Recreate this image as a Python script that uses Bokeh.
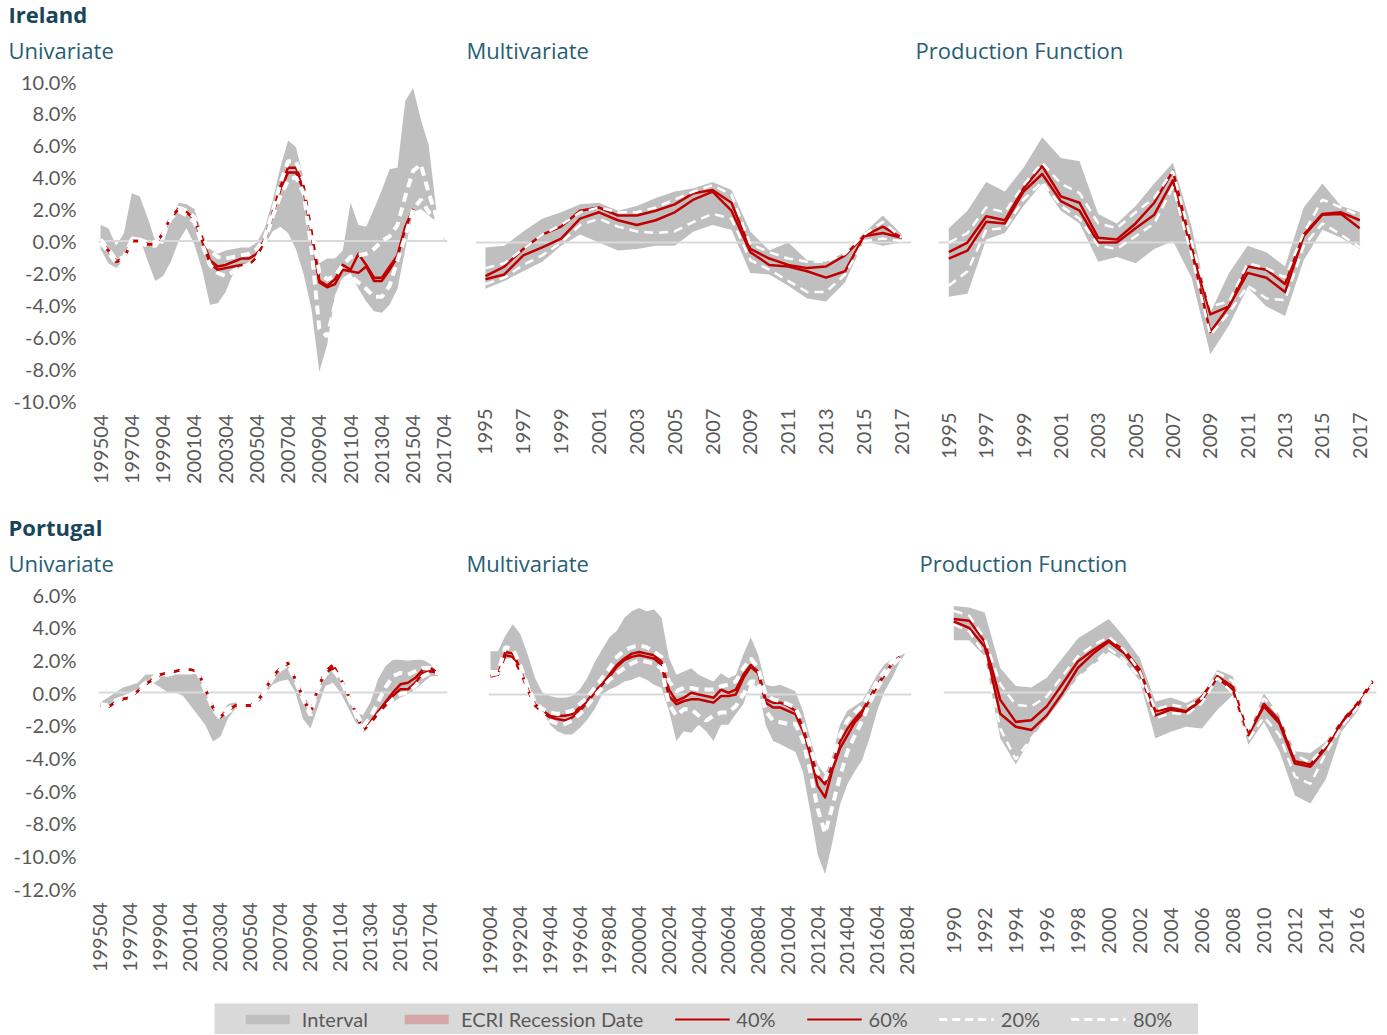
import math
import numpy as np
from bokeh.plotting import figure
from bokeh.models import (ColumnDataSource, Span, FixedTicker, PrintfTickFormatter,
                          Title, Legend, LegendItem, Range1d, Spacer)
from bokeh.layouts import column, row
from bokeh.embed import file_html
from bokeh.resources import INLINE

nan = float("nan")

# ---------------------------------------------------------------- data
# Ireland - Univariate (half-yearly readings, % output gap)
IE_UNI_T = [1995.75, 1996.25, 1996.75, 1997.25, 1997.75, 1998.25, 1998.75, 1999.25, 1999.75,
            2000.25, 2000.75, 2001.25, 2001.75, 2002.25, 2002.75, 2003.25, 2003.75, 2004.25,
            2004.75, 2005.25, 2005.75, 2006.25, 2006.75, 2007.25, 2007.75, 2008.25, 2008.75,
            2009.25, 2009.75, 2010.25, 2010.75, 2011.25, 2011.75, 2012.25, 2012.75, 2013.25,
            2013.75, 2014.25, 2014.75, 2015.25, 2015.75, 2016.25, 2016.75, 2017.25, 2017.75]
IE_UNI_HI = [1.0, 0.8, -0.3, 0.5, 3.0, 2.8, 1.5, 0.0, -0.2, 1.4, 2.4, 2.3, 2.0, 0.5, -0.5,
             -0.8, -0.6, -0.5, -0.4, -0.4, -0.1, 0.8, 2.5, 4.6, 6.3, 5.9, 3.9, 0.6, -1.4, -1.1,
             -1.1, -0.6, 2.4, 1.0, 0.9, 2.0, 3.2, 4.5, 4.6, 8.8, 9.6, 7.6, 6.0, 1.8, 0.2]
IE_UNI_LO = [-0.5, -1.4, -1.7, -1.2, 0.3, 0.2, -1.2, -2.5, -2.2, -1.3, 0.0, 0.8, -0.2, -1.8, -4.0,
             -3.9, -3.2, -2.0, -1.6, -1.3, -0.9, -0.3, 0.6, 0.9, 0.5, -0.5, -2.1, -4.3, -8.2, -6.5,
             -3.4, -2.3, -2.0, -3.0, -3.8, -4.4, -4.5, -4.0, -3.0, -0.5, 1.8, 2.0, 1.6, 1.2, 0.0]
IE_UNI_P80 = [0.1, -0.5, -1.2, -1.0, 0.1, 0.1, -0.1, -0.1, 0.6, 1.7, 2.1, 1.9, 1.5, 0.3, -0.6,
              -1.0, -1.1, -1.0, -0.9, -0.8, -0.5, 0.2, 1.8, 3.6, 5.0, 5.0, 3.8, 0.8, -2.0, -2.4,
              -2.2, -1.5, -1.0, -0.9, -0.8, -0.5, 0.0, 0.3, 1.0, 2.8, 4.4, 4.8, 3.0, 1.5, 0.2]
IE_UNI_P60 = [0.0, -0.6, -1.3, -1.1, 0.0, 0.0, -0.2, -0.2, 0.5, 1.5, 2.0, 1.8, 1.4, 0.2, -1.2,
              -1.6, -1.5, -1.3, -1.1, -1.1, -0.8, 0.1, 1.7, 3.4, 4.6, 4.6, 3.4, 0.6, -2.5, -2.8,
              -2.4, -1.5, -1.8, -0.8, -1.5, -2.3, -2.3, -1.6, -0.9, 0.9, 2.0, nan, nan, nan, nan]
IE_UNI_P40 = [0.0, -0.6, -1.3, -1.1, 0.0, 0.0, -0.2, -0.2, 0.5, 1.5, 2.0, 1.8, 1.4, 0.0, -1.4,
              -1.8, -1.7, -1.6, -1.5, -1.5, -1.0, 0.0, 1.6, 3.2, 4.3, 4.3, 3.2, 0.4, -2.6, -2.9,
              -2.7, -1.8, -1.9, -2.0, -1.6, -2.5, -2.5, -1.8, -1.0, 0.8, 2.0, nan, nan, nan, nan]
IE_UNI_P20 = [-0.1, -0.7, -1.4, -1.2, -0.1, -0.1, -0.3, -0.3, 0.4, 1.4, 1.9, 1.6, 1.2, -0.2, -1.5,
              -2.0, -2.2, -1.9, -1.6, -1.5, -1.1, -0.1, 1.5, 2.8, 3.8, 4.0, 3.0, -0.5, -5.5, -6.0,
              -4.0, -2.5, -2.2, -2.6, -3.0, -3.5, -3.5, -2.8, -1.2, 0.3, 2.0, 2.6, 1.8, 1.4, 0.2]

# Ireland - Multivariate (annual)
IE_YEARS = [1995, 1996, 1997, 1998, 1999, 2000, 2001, 2002, 2003, 2004, 2005, 2006,
            2007, 2008, 2009, 2010, 2011, 2012, 2013, 2014, 2015, 2016, 2017]
IE_MV_HI = [-0.3, -0.2, 0.7, 1.5, 1.9, 2.4, 2.5, 2.0, 2.3, 2.8, 3.2, 3.4, 3.8, 3.3, 0.7, -0.5,
            0.0, -1.1, -1.2, -0.6, 0.6, 1.7, 0.5]
IE_MV_LO = [-2.9, -2.4, -1.8, -1.2, -0.2, 0.5, 0.0, -0.5, -0.4, -0.2, -0.2, 0.7, 1.1, 0.8, -1.9,
            -2.0, -2.7, -3.5, -3.7, -2.5, 0.1, -0.2, 0.0]
IE_MV_P80 = [-1.6, -1.3, -0.4, 0.5, 1.1, 1.9, 2.2, 1.9, 1.9, 2.2, 2.7, 3.2, 3.6, 3.0, -0.1, -0.6,
             -1.0, -1.2, -1.2, -0.7, 0.5, 1.3, 0.3]
IE_MV_P60 = [-2.1, -1.5, -0.4, 0.5, 1.0, 2.0, 2.2, 1.7, 1.7, 2.0, 2.4, 3.1, 3.3, 2.5, -0.4, -1.0,
             -1.4, -1.6, -1.5, -0.8, 0.4, 1.0, 0.3]
IE_MV_P40 = [-2.3, -2.0, -0.8, -0.3, 0.25, 1.5, 1.9, 1.4, 1.1, 1.4, 1.9, 2.7, 3.2, 2.0, -0.6, -1.4,
             -1.5, -1.8, -2.2, -1.8, 0.4, 0.6, 0.3]
IE_MV_P20 = [-2.6, -2.2, -1.4, -0.8, 0.0, 1.1, 1.5, 1.0, 0.7, 0.6, 0.7, 1.3, 1.8, 1.5, -1.1, -1.7,
             -2.4, -3.1, -3.1, -2.0, 0.1, 0.25, 0.1]

# Ireland - Production Function (annual)
IE_PF_HI = [0.9, 2.0, 3.8, 3.2, 4.7, 6.6, 5.3, 5.1, 1.8, 1.2, 2.3, 3.7, 5.0, 1.0, -4.4, -1.9,
            -0.2, -0.6, -1.5, 2.2, 3.7, 2.3, 1.9]
IE_PF_LO = [-3.4, -3.2, 0.2, 0.6, 2.3, 3.7, 2.0, 1.2, -1.2, -0.9, -1.3, -0.4, 0.1, -2.2, -7.0,
            -5.2, -2.8, -4.0, -4.6, -1.1, 0.8, 0.3, -0.4]
IE_PF_P80 = [0.0, 0.6, 2.2, 1.9, 3.6, 5.0, 3.7, 3.1, 1.2, 0.9, 1.9, 2.8, 4.5, 0.0, -4.0, -3.7,
             -1.3, -1.6, -2.2, 0.6, 2.7, 2.2, 1.7]
IE_PF_P60 = [-0.6, 0.0, 1.65, 1.4, 3.4, 4.8, 2.9, 2.5, 0.3, 0.2, 1.2, 2.5, 4.5, -0.3, -4.5, -4.0,
             -1.5, -1.7, -2.6, 0.5, 1.8, 1.9, 1.4]
IE_PF_P40 = [-1.0, -0.5, 1.3, 1.2, 3.2, 4.3, 2.6, 2.0, 0.0, 0.0, 0.9, 1.75, 3.9, -0.5, -5.6, -4.0,
             -1.9, -2.2, -3.1, 0.4, 1.75, 1.8, 0.9]
IE_PF_P20 = [-2.7, -1.8, 0.8, 0.9, 2.7, 3.8, 2.3, 1.5, -0.2, -0.4, 0.4, 1.2, 3.5, -0.8, -5.8, -4.4,
             -2.7, -3.5, -3.6, -0.2, 1.2, 0.5, -0.3]

# Portugal - Univariate (half-yearly readings)
PT_UNI_T = [1995.75, 1996.25, 1996.75, 1997.25, 1997.75, 1998.25, 1998.75, 1999.25, 1999.75,
            2000.25, 2000.75, 2001.25, 2001.75, 2002.25, 2002.75, 2003.25, 2003.75, 2004.25,
            2004.75, 2005.25, 2005.75, 2006.25, 2006.75, 2007.25, 2007.75, 2008.25, 2008.75,
            2009.25, 2009.75, 2010.25, 2010.75, 2011.25, 2011.75, 2012.25, 2012.75, 2013.25,
            2013.75, 2014.25, 2014.75, 2015.25, 2015.75, 2016.25, 2016.75, 2017.25, 2017.75,
            2018.25]
PT_UNI_HI = [-0.6, -0.3, 0.0, 0.3, 0.45, 0.6, 1.1, 1.1, 1.0, 1.0, 1.1, 1.1, 1.1, 1.2, 0.2, -1.0,
             -1.4, -0.7, -0.6, -0.7, -0.7, -0.3, 0.3, 1.0, 1.6, 1.7, 1.0, 0.0, -0.9, 0.0, 1.5, 1.6,
             0.8, 0.0, -1.2, -1.4, -0.6, 0.8, 1.6, 2.0, 2.0, 1.95, 2.0, 2.0, 1.75, 1.2]
PT_UNI_LO = [-0.8, -0.9, -0.6, -0.2, 0.0, 0.2, 0.7, 0.6, 0.3, 0.0, 0.0, -0.2, -0.8, -1.4, -2.0,
             -3.0, -2.7, -1.6, -1.0, -0.9, -0.9, -0.7, -0.1, 0.5, 0.7, 0.8, 0.0, -1.6, -2.2, -0.9,
             0.4, 0.6, 0.0, -0.9, -1.8, -2.35, -1.8, -1.2, -0.8, -0.6, -0.3, -0.1, 0.2, 0.6, 1.0,
             1.0]
PT_UNI_P80 = [-0.7, -0.8, -0.5, -0.3, -0.2, 0.2, 0.6, 0.9, 1.2, 1.3, 1.4, 1.5, 1.5, 1.4, 0.3,
              -0.8, -1.4, -1.0, -0.7, -0.7, -0.7, -0.4, 0.3, 1.1, 1.6, 1.9, 0.9, -0.2, -1.2, 0.4,
              1.4, 1.9, 1.0, 0.0, -1.1, -2.1, -1.5, -0.6, 0.3, 1.0, 1.2, 1.1, 1.3, 1.5, 1.5, 1.2]
PT_UNI_P60 = [-0.8, -0.9, -0.6, -0.4, -0.3, 0.1, 0.5, 0.8, 1.1, 1.2, 1.3, 1.4, 1.4, 1.3, 0.2,
              -0.9, -1.5, -1.1, -0.8, -0.8, -0.8, -0.5, 0.2, 1.0, 1.5, 1.8, 0.8, -0.3, -1.3, 0.3,
              1.3, 1.7, 0.9, -0.1, -1.2, -2.3, -1.8, -1.2, -0.6, 0.0, 0.5, 0.6, 0.9, 1.4, 1.5, 1.2]
PT_UNI_P40 = [-0.8, -0.9, -0.6, -0.4, -0.3, 0.1, 0.5, 0.8, 1.1, 1.2, 1.3, 1.4, 1.4, 1.3, 0.2,
              -0.9, -1.5, -1.1, -0.8, -0.8, -0.8, -0.5, 0.2, 1.0, 1.5, 1.8, 0.8, -0.3, -1.3, 0.3,
              1.2, 1.5, 0.9, -0.1, -1.2, -2.35, -1.9, -1.3, -0.8, -0.2, 0.2, 0.2, 0.6, 1.2, 1.3,
              1.2]
PT_UNI_P20 = [-0.9, -1.0, -0.7, -0.5, -0.4, 0.0, 0.4, 0.7, 1.0, 1.1, 1.2, 1.3, 1.3, 1.2, 0.1,
              -1.0, -1.6, -1.2, -0.9, -0.9, -0.9, -0.6, 0.1, 0.9, 1.4, 1.7, 0.7, -0.4, -1.4, 0.2,
              1.1, 1.4, 0.8, -0.2, -1.3, -2.4, -2.0, -1.4, -0.9, -0.4, -0.1, 0.0, 0.4, 1.0, 1.2,
              1.2]

# Portugal - Multivariate (half-yearly readings)
PT_MV_T = [1990.75, 1991.25, 1991.75, 1992.25, 1992.75, 1993.25, 1993.75, 1994.25, 1994.75,
           1995.25, 1995.75, 1996.25, 1996.75, 1997.25, 1997.75, 1998.25, 1998.75, 1999.25,
           1999.75, 2000.25, 2000.75, 2001.25, 2001.75, 2002.25, 2002.75, 2003.25, 2003.75,
           2004.25, 2004.75, 2005.25, 2005.75, 2006.25, 2006.75, 2007.25, 2007.75, 2008.25,
           2008.75, 2009.25, 2009.75, 2010.25, 2010.75, 2011.25, 2011.75, 2012.25, 2012.75,
           2013.25, 2013.75, 2014.25, 2014.75, 2015.25, 2015.75, 2016.25, 2016.75, 2017.25,
           2017.75, 2018.25, 2018.75]
PT_MV_HI = [2.65, 2.65, 3.6, 4.3, 3.7, 2.45, 1.0, 0.1, -0.1, -0.2, -0.2, -0.1, 0.3, 1.0, 1.95,
            2.75, 3.5, 3.9, 4.7, 5.1, 5.3, 5.1, 5.2, 4.7, 2.25, 1.2, 1.4, 1.6, 1.2, 1.0, 0.8, 1.3,
            1.0, 1.2, 2.45, 3.5, 2.45, 0.6, 0.5, 0.6, 0.4, 0.2, -1.0, -2.65, -4.3, -4.9, -3.7,
            -1.85, -1.0, -0.7, -0.4, 0.4, 1.2, 1.85, 2.15, 2.35, 2.65]
PT_MV_LO = [1.5, 1.5, 2.15, 2.25, 1.85, 0.8, -0.4, -1.0, -1.85, -2.25, -2.45, -2.45, -2.05, -1.55,
            -0.9, 0.0, 0.3, 0.5, 0.8, 0.9, 1.1, 0.9, 0.6, 0.4, -1.0, -2.85, -2.25, -2.35, -1.85,
            -2.25, -2.85, -1.85, -1.85, -1.2, -0.6, 0.8, 0.4, -1.85, -2.85, -3.05, -3.3, -3.5,
            -4.7, -7.15, -9.8, -11.0, -9.0, -6.75, -5.5, -4.7, -4.0, -2.65, -1.0, 0.2, 1.0, 1.95,
            2.65]
PT_MV_P80 = [1.2, 1.3, 2.9, 2.8, 1.8, 0.5, -0.5, -0.9, -1.1, -1.2, -1.1, -1.0, -0.6, -0.2, 0.4,
             1.0, 1.6, 2.3, 2.7, 2.9, 3.0, 2.9, 2.6, 2.3, 0.8, 0.2, 0.4, 0.4, 0.3, 0.3, 0.3, 0.5,
             0.6, 0.8, 1.6, 2.2, 1.6, 0.0, -0.3, -0.4, -0.6, -0.8, -1.8, -3.2, -4.8, -5.2, -4.0,
             -2.5, -1.6, -1.1, -0.7, 0.0, 0.8, 1.4, 2.0, 2.4, 2.9]
PT_MV_P60 = [1.2, 1.2, 2.6, 2.5, 1.6, 0.3, -0.6, -1.0, -1.3, -1.3, -1.3, -1.2, -0.8, -0.4, 0.2,
             0.6, 1.2, 1.8, 2.2, 2.5, 2.6, 2.5, 2.4, 2.0, 0.3, -0.4, -0.2, 0.1, 0.0, -0.1, -0.2,
             0.3, 0.1, 0.3, 1.2, 1.8, 1.4, -0.3, -0.5, -0.5, -0.7, -1.0, -2.0, -3.5, -5.0, -5.5,
             -4.3, -2.9, -2.1, -1.5, -1.0, -0.2, 0.6, 1.2, 1.9, 2.3, nan]
PT_MV_P40 = [1.1, 1.2, 2.4, 2.3, 1.4, 0.3, -0.7, -1.1, -1.4, -1.5, -1.6, -1.4, -1.0, -0.5, 0.1,
             0.6, 1.1, 1.7, 2.1, 2.3, 2.4, 2.3, 2.2, 1.8, -0.1, -0.6, -0.4, -0.3, -0.3, -0.4, -0.5,
             -0.1, -0.1, 0.0, 1.0, 1.7, 1.3, -0.5, -0.8, -0.8, -1.0, -1.2, -2.2, -3.7, -5.6, -6.3,
             -4.6, -3.3, -2.5, -1.7, -1.2, -0.3, 0.5, 1.2, 1.9, 2.3, nan]
PT_MV_P20 = [0.8, 1.0, 2.1, 2.0, 1.3, 0.1, -0.8, -1.2, -1.6, -1.8, -1.8, -1.6, -1.2, -0.7, -0.1,
             0.4, 0.9, 1.3, 1.6, 1.9, 2.1, 2.0, 1.9, 1.6, -0.6, -1.3, -0.9, -0.9, -1.3, -1.6, -1.3,
             -1.1, -1.1, -0.7, 0.0, 0.8, 0.8, -1.0, -1.6, -1.7, -1.8, -1.8, -2.8, -4.7, -7.0, -8.5,
             -6.8, -5.0, -3.5, -2.5, -1.6, -0.5, 0.4, 1.1, 1.8, 2.2, 2.8]

# Portugal - Production Function (annual)
PT_YEARS = [1990, 1991, 1992, 1993, 1994, 1995, 1996, 1997, 1998, 1999, 2000, 2001, 2002, 2003,
            2004, 2005, 2006, 2007, 2008, 2009, 2010, 2011, 2012, 2013, 2014, 2015, 2016, 2017]
PT_PF_HI = [5.3, 5.2, 4.9, 1.5, 0.4, 0.3, 0.9, 2.1, 3.3, 3.9, 4.5, 3.4, 2.1, -0.55, -0.3, -0.65,
            -0.15, 1.4, 1.0, -2.4, -0.05, -1.4, -3.6, -3.7, -3.0, -1.6, -0.65, 0.8]
PT_PF_LO = [3.2, 3.2, 2.2, -2.8, -4.4, -2.8, -1.6, -0.35, 0.9, 1.7, 2.5, 1.9, 0.7, -2.8, -2.4,
            -2.1, -2.2, -1.05, -0.15, -3.2, -1.8, -3.6, -6.3, -6.8, -5.3, -2.4, -1.2, 0.5]
PT_PF_P80 = [5.0, 4.7, 3.3, 0.5, -0.75, -0.85, -0.25, 1.0, 2.2, 2.9, 3.4, 2.6, 1.3, -1.05, -0.75,
             -0.9, -0.35, 1.2, 0.7, -2.4, -0.35, -1.4, -3.8, -4.3, -3.2, -1.6, -0.55, 0.8]
PT_PF_P60 = [4.5, 4.4, 3.1, -0.45, -1.8, -1.7, -0.85, 0.5, 1.9, 2.6, 3.2, 2.6, 1.4, -1.15, -0.95,
             -1.15, -0.25, 1.0, 0.35, -2.6, -0.7, -1.7, -4.2, -4.4, -3.3, -1.8, -0.7, 0.7]
PT_PF_P40 = [4.35, 3.95, 2.8, -1.3, -2.1, -2.3, -1.4, -0.05, 1.5, 2.4, 3.1, 2.4, 1.2, -1.4, -1.05,
             -1.2, -0.45, 0.9, 0.15, -2.6, -0.85, -1.9, -4.35, -4.55, -3.4, -1.9, -0.85, 0.65]
PT_PF_P20 = [4.15, 3.75, 2.3, -2.2, -4.1, -2.8, -1.7, -0.55, 0.9, 1.7, 2.7, 2.0, 0.9, -1.6, -1.25,
             -1.35, -0.65, 0.9, -0.05, -2.9, -1.5, -2.6, -5.15, -5.6, -3.7, -2.1, -0.95, 0.5]

# tick labels
QTR_TICKS_95 = ["199504", "199704", "199904", "200104", "200304", "200504", "200704",
                "200904", "201104", "201304", "201504", "201704"]
QTR_TICKS_90 = ["199004", "199204", "199404", "199604", "199804", "200004", "200204", "200404",
                "200604", "200804", "201004", "201204", "201404", "201604", "201804"]
YEAR_TICKS_95 = ["1995", "1997", "1999", "2001", "2003", "2005", "2007", "2009", "2011",
                 "2013", "2015", "2017"]
YEAR_TICKS_90 = ["1990", "1992", "1994", "1996", "1998", "2000", "2002", "2004", "2006",
                 "2008", "2010", "2012", "2014", "2016"]
IE_Y_TICKS = [-10, -8, -6, -4, -2, 0, 2, 4, 6, 8, 10]
PT_Y_TICKS = [-12, -10, -8, -6, -4, -2, 0, 2, 4, 6]

COUNTRIES = ["Ireland", "Portugal"]
METHODS = ["Univariate", "Multivariate", "Production Function"]
LEGEND_LABELS = ["Interval", "ECRI Recession Date", "40%", "60%", "20%", "80%"]

# ---------------------------------------------------------------- style
BAND = "#BFBFBF"
ECRI = "#D5A6A6"
RED = "#C00000"
ZERO = "#D9D9D9"
AX_TXT = "#595959"
TITLE_C = "#17465A"
SUB_C = "#285E73"
AX_FONT = "Lato"
T_FONT = "Open Sans"


def tick_pos(lbl):
    if len(lbl) == 6:
        return int(lbl[:4]) + (int(lbl[4:]) - 1) / 4.0
    return float(lbl)


def panel(t, hi, lo, p20, p40, p60, p80, ticks, subtitle, xr, yr, fw, fh,
          bl, br, bt, bb, t_off, x_standoff, country=None,
          y_ticks=None, white_w=4.0):
    p = figure(frame_width=fw, frame_height=fh,
               x_range=Range1d(*xr), y_range=Range1d(*yr),
               output_backend="svg", toolbar_location=None,
               y_axis_location="left" if y_ticks else None,
               min_border_left=bl, min_border_right=br,
               min_border_top=bt, min_border_bottom=bb)
    p.outline_line_color = None
    p.xgrid.visible = False
    p.ygrid.visible = False

    # outermost title: country (only on the first panel of a row)
    p.title.text = country if country else ""
    p.title.align = "left"
    p.title.offset = t_off
    p.title.standoff = -27
    p.title.text_font = T_FONT
    p.title.text_font_size = "22px"
    p.title.text_font_style = "bold"
    p.title.text_color = TITLE_C
    # subtitle next to the frame
    p.add_layout(Title(text=subtitle, align="left", offset=t_off, standoff=34,
                       text_font=T_FONT, text_font_size="22px",
                       text_font_style="normal", text_color=SUB_C), "above")

    src = ColumnDataSource(dict(t=np.array(t, dtype=float),
                                hi=np.array(hi, dtype=float), lo=np.array(lo, dtype=float),
                                p20=np.array(p20, dtype=float), p40=np.array(p40, dtype=float),
                                p60=np.array(p60, dtype=float), p80=np.array(p80, dtype=float)))
    p.varea(x="t", y1="lo", y2="hi", source=src, fill_color=BAND, fill_alpha=1.0,
            level="image")
    p.add_layout(Span(location=0, dimension="width", line_color=ZERO, line_width=2,
                      level="underlay"))
    for col in ("p40", "p60"):
        p.line("t", col, source=src, line_color=RED, line_width=2.5, line_join="round")
    for col in ("p20", "p80"):
        p.line("t", col, source=src, line_color="white", line_width=white_w,
               line_dash="9 6")

    xa = p.xaxis[0]
    xa.ticker = FixedTicker(ticks=[tick_pos(l) for l in ticks])
    xa.major_label_overrides = {tick_pos(l): l for l in ticks}
    xa.major_label_orientation = math.pi / 2
    xa.major_label_standoff = x_standoff
    for ax in [xa] + (list(p.yaxis) if y_ticks else []):
        ax.axis_line_color = None
        ax.major_tick_line_color = None
        ax.minor_tick_line_color = None
        ax.major_tick_out = 0
        ax.major_tick_in = 0
        ax.minor_tick_out = 0
        ax.major_label_text_font = AX_FONT
        ax.major_label_text_font_size = "20px"
        ax.major_label_text_color = AX_TXT
    if y_ticks:
        ya = p.yaxis[0]
        ya.ticker = FixedTicker(ticks=y_ticks)
        ya.formatter = PrintfTickFormatter(format="%.1f%%")
        ya.major_label_standoff = 22
    return p


# ---------------------------------------------------------------- row 1: Ireland
H1_T, H1_F, H1_B = 81, 319, 105
p1 = panel(IE_UNI_T, IE_UNI_HI, IE_UNI_LO, IE_UNI_P20, IE_UNI_P40, IE_UNI_P60, IE_UNI_P80,
           QTR_TICKS_95, METHODS[0], (1995.62, 2017.95), (-10, 10), 349, H1_F,
           98, 10, H1_T, H1_B, -90, 14, country=COUNTRIES[0], y_ticks=IE_Y_TICKS)
p2 = panel(IE_YEARS, IE_MV_HI, IE_MV_LO, IE_MV_P20, IE_MV_P40, IE_MV_P60, IE_MV_P80,
           YEAR_TICKS_95, METHODS[1], (1994.474, 2017.515), (-9.9, 10.1), 436, H1_F,
           18, 4, H1_T, H1_B, -9, 8, white_w=2.5)
p3 = panel(IE_YEARS, IE_PF_HI, IE_PF_LO, IE_PF_P20, IE_PF_P40, IE_PF_P60, IE_PF_P80,
           YEAR_TICKS_95, METHODS[2], (1994.449, 2017.04), (-9.9, 10.1), 422, H1_F,
           23, 12, H1_T, H1_B, -23, 12, white_w=2.5)

# ---------------------------------------------------------------- row 2: Portugal
H2_T, H2_F, H2_B = 89, 294, 112
p4 = panel(PT_UNI_T, PT_UNI_HI, PT_UNI_LO, PT_UNI_P20, PT_UNI_P40, PT_UNI_P60, PT_UNI_P80,
           QTR_TICKS_95, METHODS[0], (1995.62, 2018.89), (-12, 6), 349, H2_F,
           98, 10, H2_T, H2_B, -90, 14, country=COUNTRIES[1], y_ticks=PT_Y_TICKS)
p5 = panel(PT_MV_T, PT_MV_HI, PT_MV_LO, PT_MV_P20, PT_MV_P40, PT_MV_P60, PT_MV_P80,
           QTR_TICKS_90, METHODS[1], (1990.616, 2019.06), (-11.88, 6.12), 423, H2_F,
           31, 8, H2_T, H2_B, -22, 17)
p6 = panel(PT_YEARS, PT_PF_HI, PT_PF_LO, PT_PF_P20, PT_PF_P40, PT_PF_P60, PT_PF_P80,
           YEAR_TICKS_90, METHODS[2], (1989.34, 2017.26), (-12, 6), 433, H2_F,
           24, 6, H2_T, H2_B, -24, 19, white_w=2.5)

# ---------------------------------------------------------------- legend strip
lg = figure(frame_width=984, frame_height=31, x_range=Range1d(0, 1), y_range=Range1d(0, 1),
            output_backend="svg", toolbar_location=None, x_axis_location=None,
            y_axis_location=None, min_border=0)
lg.outline_line_color = None
lg.xgrid.visible = False
lg.ygrid.visible = False
lg.background_fill_color = "#D9D9D9"
lg.border_fill_color = "#D9D9D9"
proxy = ColumnDataSource(dict(x=[nan], y1=[nan], y2=[nan]))
r_band = lg.varea(x="x", y1="y1", y2="y2", source=proxy, fill_color=BAND)
r_ecri = lg.varea(x="x", y1="y1", y2="y2", source=proxy, fill_color=ECRI)
r40 = lg.line("x", "y1", source=proxy, line_color=RED, line_width=2)
r60 = lg.line("x", "y1", source=proxy, line_color=RED, line_width=2)
r20 = lg.line("x", "y1", source=proxy, line_color="white", line_width=3, line_dash="8 5")
r80 = lg.line("x", "y1", source=proxy, line_color="white", line_width=3, line_dash="8 5")
legend = Legend(items=[LegendItem(label=lab, renderers=[r]) for lab, r in
                       zip(LEGEND_LABELS, [r_band, r_ecri, r40, r60, r20, r80])],
                orientation="horizontal", location="center",
                glyph_width=55, glyph_height=12, label_standoff=7, spacing=31,
                padding=0, margin=0, background_fill_alpha=0, border_line_color=None,
                label_text_font=AX_FONT, label_text_font_size="20px",
                label_text_color=AX_TXT)
lg.add_layout(legend, "center")

layout = column(row(p1, p2, p3, spacing=0),
                row(p4, p5, p6, spacing=0),
                Spacer(height=3),
                row(Spacer(width=214), lg, spacing=0),
                spacing=0)

open("out.html", "w").write(file_html(layout, INLINE))
